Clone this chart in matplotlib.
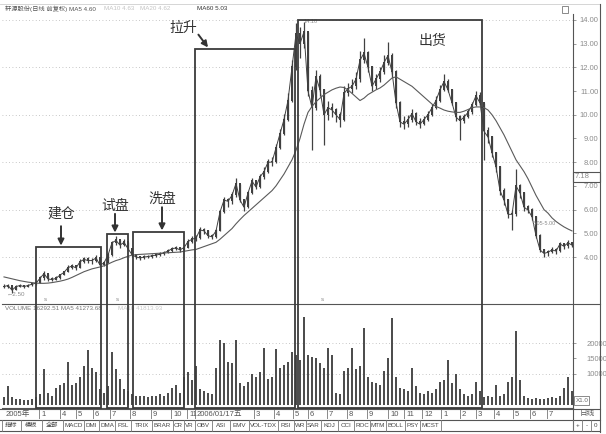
import matplotlib
matplotlib.use('Agg')
import matplotlib.pyplot as plt
import numpy as np
from matplotlib.patches import Rectangle

plt.rcParams['font.family'] = ['Liberation Sans', 'Noto Sans CJK SC', 'DejaVu Sans']

W, H = 606, 434
INK = '#404040'
GREY = '#8c8c8c'

# ---- data (one bar ~ 4 trading days) ----
close = [2.75, 2.80, 2.60, 2.75, 2.80, 2.75, 2.80, 2.85, 2.90, 3.10,
         3.30, 3.07, 3.05, 3.10, 3.24, 3.35, 3.55, 3.62, 3.54, 3.80,
         3.90, 3.85, 3.85, 3.96, 3.66, 3.75, 4.08, 4.60, 4.70, 4.50,
         4.62, 4.35, 4.10, 4.00, 3.96, 4.00, 4.02, 4.05, 4.08, 4.12,
         4.18, 4.25, 4.35, 4.38, 4.30, 4.40, 4.65, 4.75, 4.80, 5.14,
         5.10, 4.90, 4.85, 5.10, 5.90, 6.40, 6.35, 6.60, 7.10, 6.40,
         6.10, 6.70, 7.20, 6.95, 7.38, 7.60, 8.00, 8.00, 8.60, 9.20,
         9.80, 10.60, 12.00, 13.40, 13.00, 13.50, 11.00, 10.30, 11.60, 11.05,
         10.00, 10.30, 10.20, 10.00, 9.80, 10.90, 11.10, 11.20, 11.50, 12.30,
         12.60, 12.00, 11.20, 11.50, 11.80, 12.20, 12.50, 11.80, 10.50, 9.70,
         9.60, 9.80, 10.05, 9.70, 9.60, 9.80, 10.00, 10.30, 10.60, 11.05,
         11.40, 11.05, 10.50, 9.90, 9.75, 9.90, 10.10, 10.40, 10.80, 10.50,
         9.30, 9.06, 8.40, 7.80, 6.80, 6.40, 5.80, 5.80, 7.00, 6.70,
         6.10, 5.98, 5.70, 4.90, 4.30, 4.15, 4.20, 4.30, 4.25, 4.55,
         4.45, 4.60, 4.50]

high = [2.85, 2.88, 2.78, 2.82, 2.87, 2.84, 2.88, 2.92, 3.00, 3.18,
        3.42, 3.30, 3.14, 3.18, 3.30, 3.42, 3.68, 3.72, 3.66, 3.90,
        4.02, 4.00, 3.95, 4.08, 3.98, 3.84, 4.15, 4.68, 4.88, 4.72,
        4.75, 4.65, 4.38, 4.12, 4.06, 4.08, 4.10, 4.12, 4.16, 4.20,
        4.26, 4.34, 4.42, 4.46, 4.42, 4.50, 4.75, 4.88, 4.92, 5.25,
        5.22, 5.12, 4.98, 5.20, 6.00, 6.55, 6.50, 6.75, 7.33, 7.10,
        6.45, 6.80, 7.35, 7.25, 7.50, 7.80, 8.15, 8.20, 8.75, 9.40,
        10.05, 10.90, 12.30, 13.87, 13.70, 13.90, 13.50, 11.20, 11.90, 11.70,
        11.10, 10.60, 10.50, 10.30, 10.10, 11.20, 11.35, 11.50, 11.80, 12.70,
        13.24, 12.70, 12.05, 11.70, 12.00, 12.50, 13.07, 12.60, 11.90, 10.60,
        9.95, 10.00, 10.25, 10.10, 9.85, 9.95, 10.15, 10.45, 10.80, 11.25,
        11.70, 11.50, 11.10, 10.55, 10.00, 10.05, 10.25, 10.55, 11.00, 10.95,
        10.50, 9.50, 9.10, 8.45, 7.85, 6.90, 6.45, 6.00, 7.70, 7.10,
        6.75, 6.20, 6.05, 5.75, 4.95, 4.35, 4.30, 4.42, 4.38, 4.65,
        4.60, 4.70, 4.65]

low = [2.68, 2.70, 2.50, 2.62, 2.72, 2.68, 2.72, 2.76, 2.82, 2.90,
       3.05, 3.00, 2.98, 3.02, 3.08, 3.22, 3.35, 3.48, 3.45, 3.52,
       3.75, 3.74, 3.72, 3.80, 3.60, 3.62, 3.74, 4.05, 4.50, 4.40,
       4.45, 4.28, 4.02, 3.90, 3.88, 3.92, 3.95, 3.97, 4.00, 4.04,
       4.08, 4.15, 4.22, 4.28, 4.22, 4.26, 4.38, 4.60, 4.66, 4.78,
       4.98, 4.82, 4.75, 4.82, 5.08, 5.85, 6.10, 6.25, 6.55, 6.30,
       5.95, 6.05, 6.65, 6.85, 6.90, 7.30, 7.55, 7.85, 7.95, 8.55,
       9.15, 9.75, 10.55, 11.90, 12.40, 12.80, 10.80, 8.50, 10.20, 10.80,
       8.73, 9.80, 9.90, 9.70, 9.50, 9.75, 10.80, 10.90, 11.10, 11.40,
       12.20, 11.80, 11.00, 11.10, 11.40, 11.70, 12.10, 11.60, 10.30, 9.50,
       9.40, 9.50, 9.70, 9.55, 9.45, 9.55, 9.75, 9.95, 10.25, 10.55,
       11.00, 10.95, 10.40, 9.75, 8.94, 9.65, 9.85, 10.05, 10.35, 10.40,
       8.10, 8.80, 8.20, 7.60, 6.60, 6.20, 5.65, 5.14, 5.75, 6.50,
       5.95, 5.85, 5.55, 4.80, 4.20, 4.00, 4.05, 4.15, 4.12, 4.20,
       4.35, 4.40, 4.42]

ma60 = [3.16, 3.12, 3.08, 3.04, 3.00, 2.97, 2.94, 2.92, 2.90, 2.89,
        2.89, 2.90, 2.92, 2.95, 2.98, 3.02, 3.07, 3.14, 3.22, 3.30,
        3.38, 3.44, 3.50, 3.54, 3.58, 3.63, 3.70, 3.78, 3.85, 3.90,
        3.97, 4.03, 4.08, 4.10, 4.11, 4.12, 4.13, 4.14, 4.15, 4.16,
        4.17, 4.18, 4.19, 4.20, 4.21, 4.24, 4.27, 4.30, 4.32, 4.38,
        4.44, 4.50, 4.56, 4.62, 4.75, 4.90, 5.05, 5.20, 5.40, 5.58,
        5.75, 5.90, 6.05, 6.20, 6.35, 6.50, 6.65, 6.80, 7.00, 7.25,
        7.50, 7.80, 8.10, 8.50, 9.00, 9.60, 10.10, 10.35, 10.55, 10.70,
        10.85, 10.95, 11.05, 11.12, 11.17, 11.15, 11.05, 10.90, 10.75, 10.60,
        10.70, 10.85, 10.95, 11.05, 11.13, 11.25, 11.40, 11.55, 11.60, 11.50,
        11.40, 11.30, 11.20, 11.05, 10.90, 10.75, 10.60, 10.45, 10.35, 10.28,
        10.20, 10.15, 10.12, 10.10, 10.10, 10.15, 10.22, 10.30, 10.33, 10.33,
        10.30, 10.20, 10.00, 9.75, 9.45, 9.15, 8.80, 8.45, 8.10, 7.85,
        7.60, 7.30, 6.95, 6.60, 6.30, 6.00, 5.85, 5.65, 5.50, 5.38,
        5.27, 5.18, 5.10]

vol = [2500, 6000, 2500, 2000, 1800, 1500, 1500, 1800, 2500, 3500,
       11500, 4000, 3000, 5500, 6500, 7000, 14000, 6500, 7000, 9000,
       12500, 17800, 12000, 10500, 5000, 4000, 6000, 17000, 11500, 8500,
       5000, 4500, 3500, 3000, 2800, 3000, 2500, 3000, 2800, 3500,
       3000, 4000, 5500, 6500, 4000, 9000, 10500, 8000, 12500, 5000,
       4500, 4000, 3500, 12000, 21000, 20000, 14000, 13500, 21000, 7000,
       6000, 7500, 10000, 9000, 10500, 18500, 8500, 9000, 18000, 12000,
       13000, 14000, 17000, 16000, 14500, 28500, 16000, 15500, 15000, 13500,
       12000, 18500, 16000, 4000, 3500, 11000, 12000, 18500, 11500, 12500,
       25000, 9000, 7500, 7000, 6500, 11000, 15000, 28000, 9000, 5500,
       5000, 4500, 12000, 6000, 4000, 3500, 4500, 4000, 5000, 7500,
       8000, 14500, 7000, 10000, 5000, 3500, 3000, 3500, 7500, 4500,
       2500, 3000, 2500, 6500, 3000, 3500, 7500, 9000, 24000, 8000,
       3000, 2200, 2000, 2200, 2000, 2000, 2200, 2500, 2200, 2800,
       5500, 9000, 4500]

# month boundaries (bar index) and labels on the date strip
month_pos = [8.75, 14.0, 18.0, 22.25, 26.5, 31.5, 36.75, 41.75, 45.75, 47.75,
             62.5, 67.5, 72.25, 76.0, 80.75, 85.75, 90.75, 96.0, 100.0, 104.5,
             109.25, 114.0, 118.0, 122.5, 127.25, 131.5, 135.75]
month_lbl = ['1', '4', '5', '6', '7', '8', '9', '10', '11', '2006/01/17五',
             '3', '4', '5', '6', '7', '8', '9', '10', '11', '12',
             '1', '2', '3', '4', '5', '6', '7']

# stage boxes: name, first bar, last bar, top price
stages = ['建仓', '试盘', '洗盘', '拉升', '出货']
stage_x0 = [8.0, 25.75, 32.25, 47.75, 73.5]
stage_x1 = [24.25, 31.0, 45.0, 72.75, 119.5]
stage_top = [4.42, 4.97, 5.05, 12.78, 14.0]

tabs = ['指标', '模板', '全部', 'MACD', 'DMI', 'DMA', 'FSL', 'TRIX', 'BRAR', 'CR', 'VR',
        'OBV', 'ASI', 'EMV', 'VOL-TDX', 'RSI', 'WR', 'SAR', 'KDJ', 'CCI', 'ROC', 'MTM',
        'BOLL', 'PSY', 'MCST']
tab_edges = [2, 21, 42, 63, 84, 99, 115, 131, 152, 173, 184, 195, 212, 230, 249, 278,
             294, 306, 321, 338, 354, 370, 386, 405, 420, 441]


def box(x0, y0, x1, y1):
    return [x0 / W, 1 - y1 / H, (x1 - x0) / W, (y1 - y0) / H]


fig = plt.figure(figsize=(W / 100, H / 100), dpi=100)
fig.patch.set_facecolor('white')

ax_p = fig.add_axes(box(2, 14, 573, 303))
ax_v = fig.add_axes(box(2, 304, 573, 408))
ax_d = fig.add_axes(box(2, 409, 573, 419))
ax_o = fig.add_axes([0, 0, 1, 1])
ax_o.set_xlim(0, W)
ax_o.set_ylim(H, 0)
ax_o.axis('off')

idx = np.arange(len(close))
c = np.array(close)
o = np.array([close[0]] + close[:-1])

# ---- price panel ----
for ax in (ax_p, ax_v, ax_d):
    ax.set_xlim(-0.5, 142.25)
ax_p.set_ylim(2.06, 14.25)
for g in [4, 6, 8, 10, 12, 14]:
    ax_p.axhline(g, color='#b5b5b5', lw=0.6, ls=(0, (1, 3)), zorder=0)
ax_p.vlines(idx, low, high, color=INK, lw=0.9)
ax_p.bar(idx, np.abs(c - o) + 0.04, bottom=np.minimum(o, c), width=0.6, color=INK)
ax_p.plot(idx, close, color=INK, lw=0.7)
ax_p.plot(idx, ma60, color='#5a5a5a', lw=0.8)

ax_p.yaxis.tick_right()
ax_p.set_yticks(np.arange(4, 15))
ax_p.set_yticklabels(['%.2f' % v for v in np.arange(4, 15)])
ax_p.tick_params(axis='y', direction='out', length=2.5, width=0.6, colors=GREY,
                 labelsize=5.5, pad=16)
for lab in ax_p.get_yticklabels():
    lab.set_horizontalalignment('right')
ax_p.set_xticks([])
for s in ['left', 'top', 'bottom']:
    ax_p.spines[s].set_visible(False)
ax_p.spines['right'].set_color('#555')
ax_p.spines['right'].set_linewidth(0.8)

ax_p.text(0.6, 2.42, '←2.50', fontsize=4.5, color=GREY, va='center')
ax_p.text(75.0, 13.93, '14.10', fontsize=4, color=GREY, va='center')
ax_p.text(132.3, 5.43, '5.05-5.00', fontsize=4, color=GREY, va='center')
for sx in [10.25, 28.25, 79.5]:
    ax_p.text(sx, 2.2, 's', fontsize=4.5, color=GREY, ha='center', va='center')

# ---- volume panel ----
ax_v.set_ylim(-1000, 32600)
for g in [10000, 20000]:
    ax_v.axhline(g, color='#b5b5b5', lw=0.6, ls=(0, (1, 3)), zorder=0)
ax_v.bar(idx, vol, width=0.7, color='#4e4e4e')
ax_v.yaxis.tick_right()
ax_v.set_yticks([10000, 15000, 20000])
ax_v.set_yticklabels(['10000', '15000', '20000'])
ax_v.tick_params(axis='y', direction='out', length=2.5, width=0.6, colors=GREY,
                 labelsize=5.5, pad=22)
for lab in ax_v.get_yticklabels():
    lab.set_horizontalalignment('right')
ax_v.set_xticks([])
ax_v.spines['left'].set_visible(False)
for s in ['top', 'right', 'bottom']:
    ax_v.spines[s].set_color('#555')
    ax_v.spines[s].set_linewidth(0.8)

# ---- date strip ----
ax_d.set_ylim(0, 1)
ax_d.set_xticks([])
ax_d.set_yticks([])
for s in ax_d.spines.values():
    s.set_visible(False)
ax_d.vlines(month_pos, 0, 1, color='#777', lw=0.6)
ax_d.text(0.5, 0.5, '2005年', fontsize=5.5, color='#555', va='center')
for p, t in zip(month_pos, month_lbl):
    ax_d.text(p + 0.5, 0.5, t, fontsize=5.5, color='#555', va='center')


def to_px(ax, x, y):
    return ax_o.transData.inverted().transform(ax.transData.transform((x, y)))


# ---- stage boxes and labels ----
vbot = ax_v.get_ylim()[0]
for name, x0, x1, top in zip(stages, stage_x0, stage_x1, stage_top):
    px0, py0 = to_px(ax_p, x0, top)
    px1, _ = to_px(ax_p, x1, top)
    _, py1 = to_px(ax_v, x0, vbot)
    ax_o.add_patch(Rectangle((px0, py0), px1 - px0, py1 - py0, fill=False,
                             ec='#3c3c3c', lw=1.3, zorder=5))

lab_kw = dict(fontsize=10, color='#333', ha='center', va='center',
              family=['Noto Sans CJK SC', 'DejaVu Sans'])
arrow_kw = dict(arrowstyle='-|>', color='#333', lw=1.4, mutation_scale=9,
                shrinkA=0, shrinkB=0)
ax_p.text(14.25, 5.81, '建仓', **lab_kw)
ax_p.annotate('', xy=(14.25, 4.48), xytext=(14.25, 5.3), arrowprops=arrow_kw)
ax_p.text(27.75, 6.15, '试盘', **lab_kw)
ax_p.annotate('', xy=(27.75, 5.03), xytext=(27.75, 5.82), arrowprops=arrow_kw)
ax_p.text(39.5, 6.45, '洗盘', **lab_kw)
ax_p.annotate('', xy=(39.5, 5.12), xytext=(39.5, 6.1), arrowprops=arrow_kw)
ax_p.text(44.75, 13.66, '拉升', **lab_kw)
ax_p.annotate('', xy=(51.0, 12.84), xytext=(48.6, 13.38), arrowprops=arrow_kw)
ax_p.text(107.0, 13.11, '出货', **lab_kw)

# ---- headers ----
hdr = dict(fontsize=4.5, va='center', transform=ax_o.transData)
ax_o.text(5, 9, '轩源股份(日线 前复权) MA5 4.60', color='#555', **hdr)
ax_o.text(104, 9, 'MA10 4.63', color='#c4c4c4', **hdr)
ax_o.text(140, 9, 'MA20 4.62', color='#c4c4c4', **hdr)
ax_o.text(197, 9, 'MA60 5.03', color='#333', **hdr)
ax_o.text(5, 309, 'VOLUME 16292.51 MA5 41273.68', color='#777', **hdr)
ax_o.text(118, 309, 'MA10 41813.93', color='#c8c8c8', **hdr)

# ---- window chrome ----
fr = dict(color='#555', lw=0.8)
ax_o.plot([0, 600], [4, 4], color='#cfcfcf', lw=0.6)
ax_o.plot([600, 600], [4, 432], **fr)
ax_o.plot([573, 600], [304, 304], **fr)
ax_o.plot([0, 600], [409, 409], **fr)
ax_o.plot([0, 600], [419.5, 419.5], **fr)
ax_o.plot([0, 600], [431, 431], **fr)
ax_o.plot([573, 573], [408, 431], **fr)
ax_o.add_patch(Rectangle((573, 172), 27, 10, fill=False, ec='#555', lw=0.8))
ax_o.text(575, 177, '7.18', fontsize=5.5, color=GREY, va='center')
ax_o.add_patch(Rectangle((562, 6), 6, 7, fill=False, ec='#777', lw=0.6))
ax_o.add_patch(Rectangle((574, 396), 15, 9, fill=False, ec='#777', lw=0.6))
ax_o.text(576, 400.5, 'X1.0', fontsize=4.5, color='#666', va='center')
ax_o.text(580, 414, '日线', fontsize=5.5, color='#555', va='center')
for a, b in zip(tab_edges[:-1], tab_edges[1:]):
    ax_o.plot([a, a], [420, 431], color='#777', lw=0.6)
for t, a, b in zip(tabs, tab_edges[:-1], tab_edges[1:]):
    ax_o.text((a + b) / 2, 425.5, t, fontsize=4.5, color='#444', ha='center', va='center')
ax_o.plot([441, 441], [420, 431], color='#777', lw=0.6)
for a, t in zip([573, 582, 591], ['+', '-', '0']):
    ax_o.plot([a, a], [420, 431], color='#777', lw=0.6)
    ax_o.text(a + 4.5, 425.5, t, fontsize=4.5, color='#444', ha='center', va='center')

fig.savefig('out.png', dpi=100, facecolor='white')
